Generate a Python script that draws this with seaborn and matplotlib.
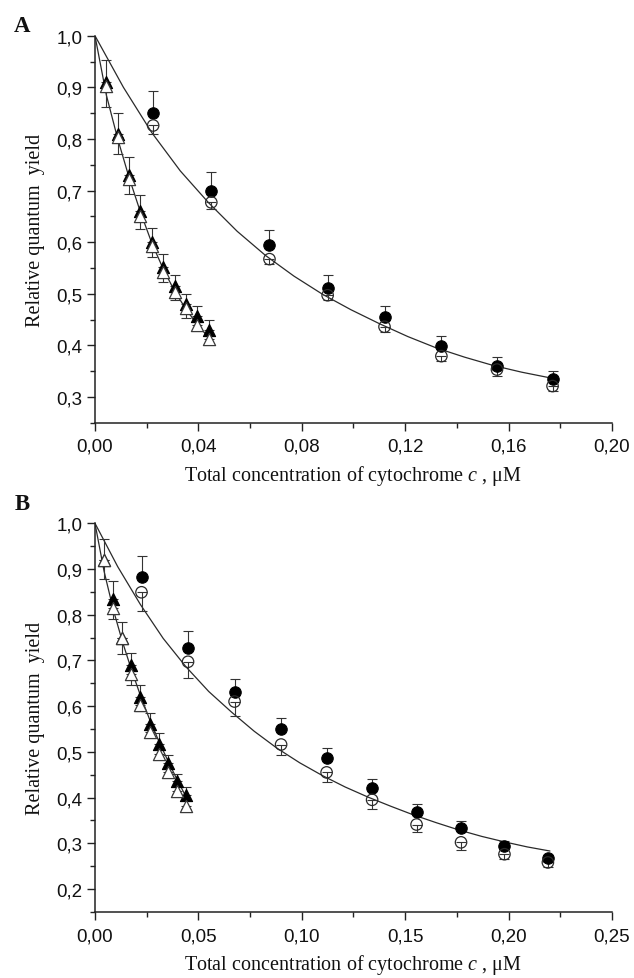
import numpy as np
import pandas as pd
import matplotlib
matplotlib.use("Agg")
import matplotlib.pyplot as plt
from matplotlib.ticker import FixedLocator, MultipleLocator
import seaborn as sns

# ---------------- data ----------------
# Panel A
a_circ_x = [0.0225, 0.0450, 0.0675, 0.0900, 0.1120, 0.1340, 0.1555, 0.1770]
a_circ_filled = [0.850, 0.700, 0.594, 0.511, 0.455, 0.398, 0.360, 0.334]
a_circ_filled_err = [0.043, 0.035, 0.030, 0.025, 0.022, 0.020, 0.017, 0.017]
a_circ_open = [0.826, 0.677, 0.567, 0.497, 0.436, 0.379, 0.353, 0.321]
a_circ_open_err = [0.017, 0.012, 0.010, 0.010, 0.010, 0.010, 0.012, 0.010]

a_tri_x = [0.0044, 0.0088, 0.0132, 0.0176, 0.0220, 0.0264, 0.0308, 0.0352, 0.0396, 0.0440]
a_tri_filled = [0.910, 0.810, 0.731, 0.661, 0.600, 0.551, 0.514, 0.480, 0.457, 0.430]
a_tri_filled_err = [0.043, 0.040, 0.033, 0.030, 0.027, 0.025, 0.023, 0.020, 0.020, 0.020]
a_tri_open = [0.902, 0.803, 0.722, 0.651, 0.592, 0.543, 0.503, 0.472, 0.440, 0.413]
a_tri_open_err = [0.040, 0.032, 0.029, 0.026, 0.021, 0.021, 0.015, 0.020, 0.010, 0.008]

a_fit_circ_x = [0, 0.011, 0.022, 0.033, 0.044, 0.055, 0.066, 0.077, 0.088,
                0.099, 0.110, 0.121, 0.132, 0.143, 0.154, 0.165, 0.177]
a_fit_circ_y = [1.000, 0.900, 0.812, 0.738, 0.676, 0.621, 0.574, 0.534, 0.499,
                0.469, 0.442, 0.417, 0.395, 0.377, 0.361, 0.348, 0.336]
a_fit_tri_x = [0, 0.0044, 0.0088, 0.0132, 0.0176, 0.0220, 0.0264, 0.0308, 0.0352, 0.0396, 0.0440]
a_fit_tri_y = [1.000, 0.885, 0.800, 0.725, 0.658, 0.598, 0.548, 0.505, 0.470, 0.440, 0.415]

# Panel B
b_circ_x = [0.0225, 0.0450, 0.0675, 0.0900, 0.1120, 0.1340, 0.1555, 0.1770, 0.1980, 0.2190]
b_circ_filled = [0.883, 0.727, 0.630, 0.550, 0.486, 0.421, 0.369, 0.333, 0.294, 0.268]
b_circ_filled_err = [0.045, 0.037, 0.029, 0.025, 0.022, 0.019, 0.017, 0.015, 0.010, 0.007]
b_circ_open = [0.849, 0.697, 0.610, 0.516, 0.455, 0.395, 0.341, 0.302, 0.276, 0.258]
b_circ_open_err = [0.042, 0.036, 0.031, 0.023, 0.020, 0.020, 0.017, 0.016, 0.011, 0.009]

b_tri_x = [0.0044, 0.0088, 0.0132, 0.0176, 0.0220, 0.0264, 0.0308, 0.0352, 0.0396, 0.0440]
b_tri_filled = [0.920, 0.835, 0.748, 0.690, 0.620, 0.560, 0.518, 0.475, 0.437, 0.405]
b_tri_filled_err = [0.046, 0.038, 0.037, 0.026, 0.027, 0.024, 0.023, 0.019, 0.015, 0.018]
b_tri_open = [0.920, 0.815, 0.748, 0.670, 0.602, 0.544, 0.495, 0.455, 0.415, 0.382]
b_tri_open_err = [0.042, 0.025, 0.034, 0.024, 0.012, 0.010, 0.010, 0.010, 0.008, 0.006]

b_fit_circ_x = [0, 0.011, 0.022, 0.033, 0.044, 0.055, 0.066, 0.077, 0.088, 0.099, 0.110,
                0.121, 0.132, 0.143, 0.154, 0.165, 0.176, 0.187, 0.198, 0.209, 0.220]
b_fit_circ_y = [1.000, 0.905, 0.822, 0.748, 0.686, 0.632, 0.587, 0.545, 0.508, 0.476, 0.448,
                0.423, 0.401, 0.381, 0.362, 0.345, 0.329, 0.315, 0.303, 0.292, 0.283]
b_fit_tri_x = [0, 0.0044, 0.0088, 0.0132, 0.0176, 0.0220, 0.0264, 0.0308, 0.0352, 0.0396, 0.0440]
b_fit_tri_y = [1.000, 0.895, 0.812, 0.742, 0.680, 0.623, 0.571, 0.524, 0.481, 0.440, 0.402]

# axis ticks
a_xticks = [0.00, 0.04, 0.08, 0.12, 0.16, 0.20]
a_xticklabels = ["0,00", "0,04", "0,08", "0,12", "0,16", "0,20"]
a_yticks = [0.3, 0.4, 0.5, 0.6, 0.7, 0.8, 0.9, 1.0]
a_yticklabels = ["0,3", "0,4", "0,5", "0,6", "0,7", "0,8", "0,9", "1,0"]
b_xticks = [0.00, 0.05, 0.10, 0.15, 0.20, 0.25]
b_xticklabels = ["0,00", "0,05", "0,10", "0,15", "0,20", "0,25"]
b_yticks = [0.2, 0.3, 0.4, 0.5, 0.6, 0.7, 0.8, 0.9, 1.0]
b_yticklabels = ["0,2", "0,3", "0,4", "0,5", "0,6", "0,7", "0,8", "0,9", "1,0"]

xlabel_text = "Total concentration of cytochrome $c$ , \u03bcM"
ylabel_text = "Relative quantum  yield"

# ---------------- style ----------------
sns.set_style("ticks")
plt.rcParams["font.family"] = ["Liberation Sans", "DejaVu Sans"]
plt.rcParams["mathtext.fontset"] = "custom"
plt.rcParams["mathtext.rm"] = "Liberation Serif"
plt.rcParams["mathtext.it"] = "Liberation Serif:italic"
plt.rcParams["axes.linewidth"] = 1.1

fig = plt.figure(figsize=(6.34, 9.79), dpi=100)
ax_a = fig.add_axes([0.1498, 0.5672, 0.8155, 0.3953])
ax_b = fig.add_axes([0.1498, 0.0676, 0.8155, 0.3969])

MS = 9.5  # marker side (points)


def draw_panel(ax, cx, cf, cfe, co, coe, tx, tf, tfe, to, toe,
               fcx, fcy, ftx, fty):
    # fitted curves
    curves = pd.concat([
        pd.DataFrame({"x": fcx, "y": fcy, "set": "circ"}),
        pd.DataFrame({"x": ftx, "y": fty, "set": "tri"}),
    ])
    sns.lineplot(data=curves, x="x", y="y", units="set", estimator=None,
                 sort=False, color="#2a2a2a", lw=0.9, ax=ax, zorder=2)

    ekw = dict(fmt="none", ecolor="#333333", elinewidth=0.8, capsize=3.5,
               capthick=0.8, zorder=3, clip_on=False)
    zeros_c = [0] * len(cx)
    zeros_t = [0] * len(tx)
    ax.errorbar(cx, cf, yerr=[zeros_c, cfe], **ekw)
    ax.errorbar(cx, co, yerr=[coe, zeros_c], **ekw)
    ax.errorbar(tx, tf, yerr=[zeros_t, tfe], **ekw)
    ax.errorbar(tx, to, yerr=[toe, zeros_t], **ekw)

    pts = pd.DataFrame({"x": tx, "y": tf})
    sns.scatterplot(data=pts, x="x", y="y", marker="^", s=MS ** 2 * 0.85,
                    color="black", edgecolor="black", linewidth=0.8, ax=ax, zorder=4)
    pts = pd.DataFrame({"x": tx, "y": to})
    sns.scatterplot(data=pts, x="x", y="y", marker="^", s=MS ** 2 * 0.85,
                    color="white", edgecolor="#3a3a3a", linewidth=0.9, ax=ax, zorder=5)
    pts = pd.DataFrame({"x": cx, "y": cf})
    sns.scatterplot(data=pts, x="x", y="y", marker="o", s=MS ** 2 * 0.75,
                    color="black", edgecolor="black", linewidth=0.8, ax=ax, zorder=4)
    pts = pd.DataFrame({"x": cx, "y": co})
    sns.scatterplot(data=pts, x="x", y="y", marker="o", s=MS ** 2 * 0.75,
                    color="none", edgecolor="#2a2a2a", linewidth=0.9, ax=ax, zorder=5)


draw_panel(ax_a, a_circ_x, a_circ_filled, a_circ_filled_err, a_circ_open, a_circ_open_err,
           a_tri_x, a_tri_filled, a_tri_filled_err, a_tri_open, a_tri_open_err,
           a_fit_circ_x, a_fit_circ_y, a_fit_tri_x, a_fit_tri_y)
draw_panel(ax_b, b_circ_x, b_circ_filled, b_circ_filled_err, b_circ_open, b_circ_open_err,
           b_tri_x, b_tri_filled, b_tri_filled_err, b_tri_open, b_tri_open_err,
           b_fit_circ_x, b_fit_circ_y, b_fit_tri_x, b_fit_tri_y)


def style_axes(ax, xlim, ylim, xt, xtl, xminor, yt, ytl):
    ax.set_xlim(*xlim)
    ax.set_ylim(*ylim)
    ax.xaxis.set_major_locator(FixedLocator(xt))
    ax.set_xticklabels(xtl)
    ax.xaxis.set_minor_locator(MultipleLocator(xminor))
    ax.yaxis.set_major_locator(FixedLocator(yt))
    ax.set_yticklabels(ytl)
    ax.yaxis.set_minor_locator(MultipleLocator(0.05))
    ax.tick_params(which="major", direction="out", length=6, width=1.0,
                   labelsize=13.5, color="#222222", labelcolor="#111111")
    ax.tick_params(which="major", axis="x", pad=5)
    ax.tick_params(which="major", axis="y", pad=3)
    ax.tick_params(which="minor", direction="out", length=3.5, width=1.0, color="#222222")
    sns.despine(ax=ax)
    for s in ("left", "bottom"):
        ax.spines[s].set_color("#222222")
    ax.set_xlabel(xlabel_text, family="Liberation Serif", fontsize=14.5,
                  color="#111111", labelpad=6)
    ax.set_ylabel(ylabel_text, family="Liberation Serif", fontsize=14.5,
                  color="#111111", labelpad=8)


style_axes(ax_a, (0, 0.20), (0.25, 1.0), a_xticks, a_xticklabels, 0.02,
           a_yticks, a_yticklabels)
style_axes(ax_b, (0, 0.25), (0.15, 1.0), b_xticks, b_xticklabels, 0.025,
           b_yticks, b_yticklabels)

fig.text(0.035, 0.9734, "A", family="Liberation Serif", fontweight="bold",
         fontsize=16.5, ha="center", va="center", color="#111111")
fig.text(0.035, 0.4842, "B", family="Liberation Serif", fontweight="bold",
         fontsize=16.5, ha="center", va="center", color="#111111")

fig.savefig("out.png", dpi=100, facecolor="white")
